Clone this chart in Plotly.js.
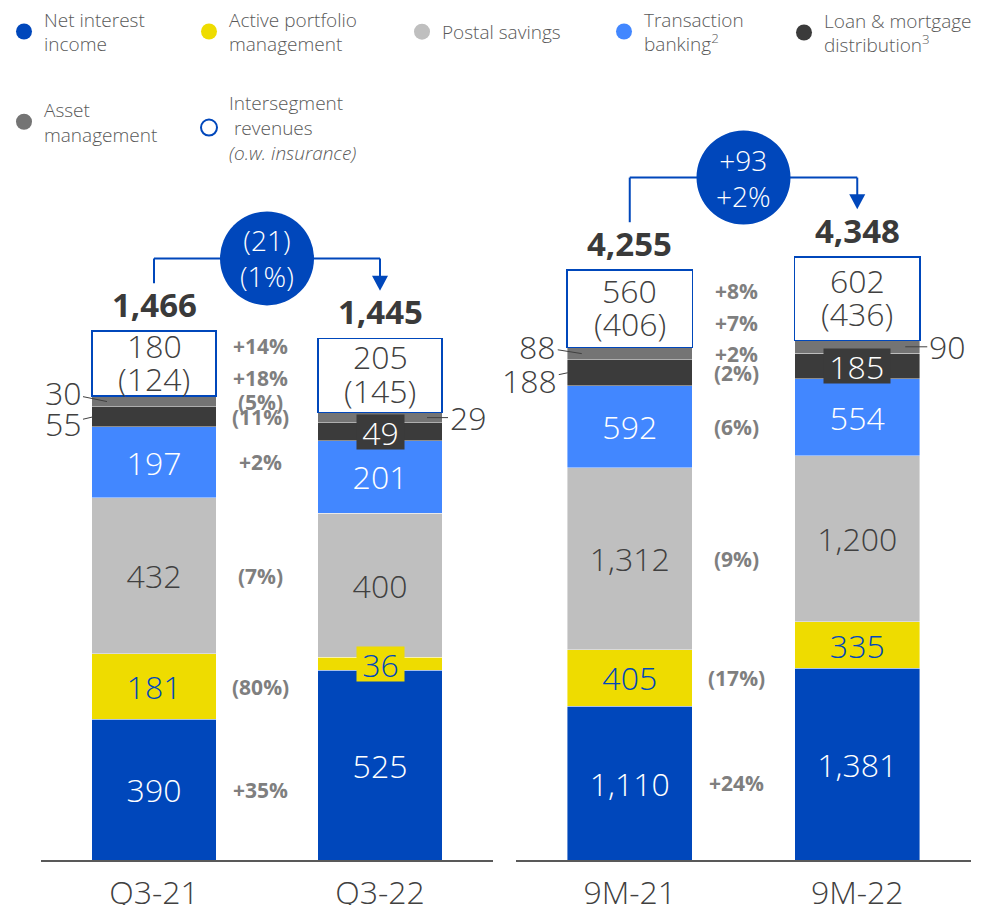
<!DOCTYPE html>
<html><head><meta charset="utf-8">
<script src="https://cdn.plot.ly/plotly-3.0.1.min.js"></script>
<style>html,body{margin:0;padding:0;background:#fff}#chart{width:998px;height:905px}</style>
</head><body><div id="chart"></div>
<script>
// ---------------- DATA ----------------
const periods = ['Q3-21', 'Q3-22', '9M-21', '9M-22'];
const netInterestIncome = [390, 525, 1110, 1381];
const activePortfolioManagement = [181, 36, 405, 335];
const postalSavings = [432, 400, 1312, 1200];
const transactionBanking = [197, 201, 592, 554];
const loanMortgageDistribution = [55, 49, 188, 185];
const assetManagement = [30, 29, 88, 90];
const intersegmentRevenues = [180, 205, 560, 602];
const insuranceRevenues = [124, 145, 406, 436];
const totals = [1466, 1445, 4255, 4348];
const deltaAbs = ['(21)', '+93'];
const deltaPct = ['(1%)', '+2%'];
// growth labels, bottom to top: NII, APM, Postal, Transaction, Loan, Asset, Intersegment
const growthQ3 = ['+35%', '(80%)', '(7%)', '+2%', '(11%)', '(5%)', '+14%'];
const growth9M = ['+24%', '(17%)', '(9%)', '(6%)', '(2%)', '+2%', '+8%'];
const growthInsurance = ['+18%', '+7%'];

// ---------------- STYLE ----------------
const FONT = 'Open Sans, Lato, DejaVu Sans, sans-serif';
const BLUE = '#0047BB';
const DARKTXT = '#404040';
const series = [
  {name: 'Net interest<br>income', vals: netInterestIncome, color: BLUE, txt: '#ffffff', inBar: [1,1,1,1]},
  {name: 'Active portfolio<br>management', vals: activePortfolioManagement, color: '#EEDC00', txt: BLUE, inBar: [1,0,1,1]},
  {name: 'Postal savings', vals: postalSavings, color: '#BFBFBF', txt: DARKTXT, inBar: [1,1,1,1]},
  {name: 'Transaction<br>banking<sup>2</sup>', vals: transactionBanking, color: '#4287FF', txt: '#ffffff', inBar: [1,1,1,1]},
  {name: 'Loan &amp; mortgage<br>distribution<sup>3</sup>', vals: loanMortgageDistribution, color: '#3B3B3B', txt: '#ffffff', inBar: [0,0,0,0]},
  {name: 'Asset<br>management', vals: assetManagement, color: '#747474', txt: '#ffffff', inBar: [0,0,0,0]},
  {name: 'Intersegment<br>\u00A0revenues<br><i>(o.w. insurance)</i>', vals: intersegmentRevenues, color: '#ffffff', txt: DARKTXT, inBar: [0,0,0,0], outline: BLUE}
];
const legendPos = [[24, 25], [209, 25], [422, 25], [624, 25], [804, 26], [24, 116], [209, 122]];

const W = 998, H = 905, PLOT_BOTTOM = 860;
const yMax = [2363, 6150];
const kPx = [PLOT_BOTTOM / yMax[0], PLOT_BOTTOM / yMax[1]];
const domains = [[41 / W, 493 / W], [516 / W, 971 / W]];
const catPx = [(domains[0][1] - domains[0][0]) * W / 2, (domains[1][1] - domains[1][0]) * W / 2];
const BAR_W = 0.55;

const fmt = v => v.toLocaleString('en-US');
const axRef = p => (p ? 'x2' : 'x');
const ayRef = p => (p ? 'y2' : 'y');

function segBase(s, i) { let b = 0; for (let j = 0; j < s; j++) b += series[j].vals[i]; return b; }
function segCenter(s, i) { return segBase(s, i) + series[s].vals[i] / 2; }

// ---------------- TRACES ----------------
const traces = [];
series.forEach((s, si) => {
  for (let p = 0; p < 2; p++) {
    const idx = [2 * p, 2 * p + 1];
    const anyText = idx.some(i => s.inBar[i]);
    const tr = {
      type: 'bar',
      x: idx.map(i => periods[i]),
      y: idx.map(i => s.vals[i]),
      xaxis: axRef(p), yaxis: ayRef(p),
      width: BAR_W,
      marker: {color: s.color, line: {color: s.outline || 'rgba(255,255,255,0.7)', width: s.outline ? 1.5 : 0.6}},
      hoverinfo: 'skip', showlegend: false
    };
    if (anyText) {
      Object.assign(tr, {
        text: idx.map(i => fmt(s.vals[i])),
        textposition: idx.map(i => s.inBar[i] ? 'inside' : 'none'),
        insidetextanchor: 'middle', textangle: 0, constraintext: 'none',
        textfont: {family: FONT, size: 32, color: s.txt, weight: 300}
      });
    } else {
      tr.textposition = 'none';
    }
    traces.push(tr);
  }
});
series.forEach((s, si) => {
  traces.push({
    type: 'scatter', mode: 'markers', x: [null], y: [null], xaxis: 'x', yaxis: 'y',
    name: s.name,
    legend: si === 0 ? 'legend' : 'legend' + (si + 1),
    marker: {size: 20, symbol: 'circle', color: s.outline ? '#ffffff' : s.color,
             line: {color: s.outline || s.color, width: s.outline ? 2 : 0}},
    showlegend: true, hoverinfo: 'skip'
  });
});

// ---------------- ANNOTATIONS ----------------
const ann = [];
const lightFont = (size, color) => ({family: FONT, size: size, color: color, weight: 300});

for (let i = 0; i < 4; i++) {
  const p = i < 2 ? 0 : 1;
  ann.push({x: periods[i], y: totals[i], xref: axRef(p), yref: ayRef(p), text: fmt(totals[i]),
    showarrow: false, yanchor: 'bottom', yshift: 2,
    font: {family: FONT, size: 33, color: '#3a3a3a', weight: 700}});
}
for (let i = 0; i < 4; i++) {
  const p = i < 2 ? 0 : 1;
  const c = segCenter(6, i);
  ann.push({x: periods[i], y: c, xref: axRef(p), yref: ayRef(p), text: fmt(intersegmentRevenues[i]),
    showarrow: false, yshift: 18.5, font: lightFont(32, DARKTXT)});
  ann.push({x: periods[i], y: c, xref: axRef(p), yref: ayRef(p), text: '(' + fmt(insuranceRevenues[i]) + ')',
    showarrow: false, yshift: -15, font: lightFont(32, DARKTXT)});
}
[growthQ3, growth9M].forEach((g, p) => {
  const i0 = 2 * p;
  g.forEach((t, si) => {
    const c = segCenter(si, i0);
    ann.push({x: 0.47, y: c, xref: axRef(p), yref: ayRef(p), text: t, showarrow: false,
      yshift: si === 6 ? 17.5 : 0, font: {family: FONT, size: 21, color: '#7F7F7F', weight: 700}});
  });
  const c6 = segCenter(6, i0);
  ann.push({x: 0.47, y: c6, xref: axRef(p), yref: ayRef(p), text: growthInsurance[p], showarrow: false,
    yshift: -14, font: {family: FONT, size: 21, color: '#7F7F7F', weight: 700}});
});
const callouts = [
  {s: 5, i: 0, dx: -47, ax: -44, ay: -9},
  {s: 4, i: 0, dx: -61, ax: -30, ay: 7},
  {s: 5, i: 1, dx: 47, ax: 41, ay: 0},
  {s: 5, i: 2, dx: -48, ax: -44, ay: -7},
  {s: 4, i: 2, dx: -62, ax: -38, ay: 8},
  {s: 5, i: 3, dx: 48, ax: 42, ay: 0}
];
callouts.forEach(c => {
  const p = c.i < 2 ? 0 : 1;
  ann.push({x: (c.i % 2) + c.dx / catPx[p], y: segCenter(c.s, c.i), xref: axRef(p), yref: ayRef(p),
    text: fmt(series[c.s].vals[c.i]), showarrow: true, arrowhead: 0, arrowwidth: 1, arrowcolor: DARKTXT,
    ax: c.ax, ay: c.ay, standoff: 0, startstandoff: 0, font: lightFont(32, DARKTXT)});
});
const boxed = [{s: 1, i: 1}, {s: 4, i: 1}, {s: 4, i: 3}];
boxed.forEach(b => {
  const p = b.i < 2 ? 0 : 1;
  const t = fmt(series[b.s].vals[b.i]);
  ann.push({x: periods[b.i], y: segCenter(b.s, b.i), xref: axRef(p), yref: ayRef(p), text: t,
    showarrow: false, bgcolor: series[b.s].color, borderpad: 0, width: t.length * 18.5 + 10, height: 34,
    valign: 'middle', font: lightFont(32, series[b.s].txt)});
});

// ---------------- BRIDGES ----------------
const shapes = [];
const bridgePx = [73, 80];
const lineSty = {color: BLUE, width: 2};
for (let p = 0; p < 2; p++) {
  const k = kPx[p], xr = axRef(p), yr = ayRef(p);
  const t0 = totals[2 * p], t1 = totals[2 * p + 1];
  const yb = Math.max(t0, t1) + bridgePx[p] / k;
  shapes.push({type: 'line', xref: xr, yref: yr, x0: 0, x1: 0, y0: t0 + 48 / k, y1: yb, line: lineSty});
  shapes.push({type: 'line', xref: xr, yref: yr, x0: 0, x1: 1, y0: yb, y1: yb, line: lineSty});
  shapes.push({type: 'line', xref: xr, yref: yr, x0: 1, x1: 1, y0: yb, y1: t1 + 62 / k, line: lineSty});
  shapes.push({type: 'path', xref: xr, yref: yr, xsizemode: 'pixel', ysizemode: 'pixel', xanchor: 1,
    yanchor: t1 + 48 / k, path: 'M-8,15 L8,15 L0,0 Z', fillcolor: BLUE, line: {width: 0}});
  shapes.push({type: 'circle', xref: xr, yref: yr, xsizemode: 'pixel', ysizemode: 'pixel', xanchor: 0.5,
    yanchor: yb, x0: -47, x1: 47, y0: -47, y1: 47, fillcolor: BLUE, line: {width: 0}});
  ann.push({x: 0.5, y: yb, xref: xr, yref: yr, text: deltaAbs[p] + '<br>' + deltaPct[p], showarrow: false,
    font: lightFont(28, '#ffffff')});
}

// ---------------- LAYOUT ----------------
const xAxisBase = {type: 'category', range: [-0.5, 1.5], showline: true,
  linecolor: '#595959', linewidth: 2, ticks: '', showgrid: false, zeroline: false, fixedrange: true,
  tickfont: lightFont(32, DARKTXT), ticklabelstandoff: 4};
const layout = {
  width: W, height: H,
  margin: {l: 0, r: 0, t: 0, b: H - PLOT_BOTTOM, pad: 0},
  paper_bgcolor: '#ffffff', plot_bgcolor: 'rgba(0,0,0,0)',
  barmode: 'stack',
  font: {family: FONT, color: DARKTXT},
  xaxis: Object.assign({domain: domains[0], anchor: 'y'}, xAxisBase),
  xaxis2: Object.assign({domain: domains[1], anchor: 'y2'}, xAxisBase),
  yaxis: {domain: [0, 1], range: [0, yMax[0]], anchor: 'x', visible: false, fixedrange: true},
  yaxis2: {domain: [0, 1], range: [0, yMax[1]], anchor: 'x2', visible: false, fixedrange: true},
  shapes: shapes,
  annotations: ann,
  showlegend: true
};
legendPos.forEach((pos, n) => {
  layout[n === 0 ? 'legend' : 'legend' + (n + 1)] = {
    x: (pos[0] - 20) / W, y: 1 - pos[1] / PLOT_BOTTOM, xref: 'paper', yref: 'paper',
    xanchor: 'left', yanchor: 'middle', valign: 'middle', bgcolor: 'rgba(0,0,0,0)', borderwidth: 0,
    orientation: 'v', itemclick: false, itemdoubleclick: false,
    font: {family: FONT, size: 19, color: '#595959', weight: 300}
  };
});

Plotly.newPlot('chart', traces, layout, {displayModeBar: false, staticPlot: true});
</script>
</body></html>
